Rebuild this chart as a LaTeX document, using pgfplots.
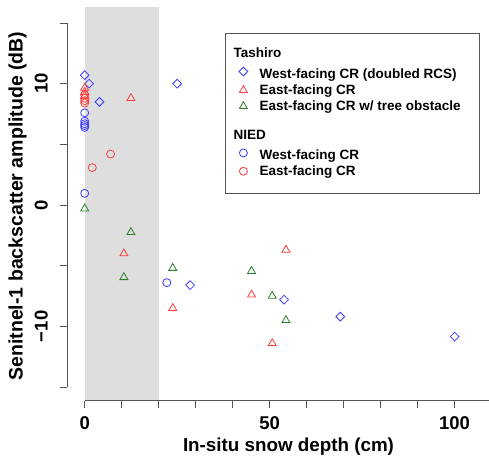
\documentclass[border=0pt]{standalone}
\usepackage{fontspec}
\setmainfont{Liberation Sans}
\usepackage{pgfplots}
\pgfplotsset{compat=1.18}

\definecolor{cblue}{RGB}{60,60,255}
\definecolor{cred}{RGB}{255,60,60}
\definecolor{cgreen}{RGB}{40,130,40}
\definecolor{shade}{RGB}{222,222,222}
\definecolor{axgray}{RGB}{85,85,85}

\pgfplotsset{
  dmark/.style={only marks, mark=square, mark size=3.1pt, mark options={rotate=45, line width=0.8pt, solid}},
  tmark/.style={only marks, mark=triangle, mark size=4.6pt, mark options={line width=0.8pt, solid}},
  cmark/.style={only marks, mark=o, mark size=4pt, mark options={line width=0.8pt, solid}},
}
% legend rows: only the height above the baseline sets the spacing
\newcommand{\rowh}[1]{\rule{0pt}{#1}}

\begin{document}
\begin{tikzpicture}
\begin{axis}[
  scale only axis, width=421.7pt, height=393.7pt,
  xmin=-4.7, xmax=109.3, ymin=-16.13, ymax=16.32,
  axis x line*=bottom, axis y line*=left,
  axis line style={draw=none},
  tick align=outside,
  xtick={0,50,100}, xticklabels={0,50,100},
  minor xtick={10,20,30,40,60,70,80,90},
  ytick={-10,0,10}, yticklabels={−10,0,10},
  minor ytick={-15,-5,5,15},
  major tick length=7pt, minor tick length=7pt,
  tick style={axgray, line width=0.8pt},
  tick label style={font=\bfseries\fontsize{18.5}{18.5}\selectfont},
  xticklabel shift=5pt,
  yticklabel style={rotate=90, anchor=south},
  yticklabel shift=9pt,
  xlabel={In-situ snow depth (cm)},
  ylabel={Senitnel-1 backscatter amplitude (dB)},
  xlabel style={font=\bfseries\fontsize{18.8}{18.8}\selectfont,
    at={(axis description cs:0.5245,-0.1168)}, anchor=center},
  ylabel style={font=\bfseries\fontsize{19.5}{19.5}\selectfont,
    at={(axis description cs:-0.118,0.4945)}, anchor=center},
  clip=false,
  legend style={draw=none, fill=none, inner sep=0pt, row sep=0pt,
    at={(rel axis cs:0.406,0.9035)}, anchor=north west,
    font=\bfseries\fontsize{13.5}{16}\selectfont,
    nodes={inner sep=0pt},
    /tikz/every odd column/.style={column sep=11.5pt},
    /tikz/every even column/.style={nodes={text depth=0pt}}},
  legend cell align=left,
  legend image code/.code={\path (-4.5pt,-4.6pt) (4.5pt,4.6pt);
    \draw[#1, overlay] plot coordinates {(0pt,-3.5pt)};},
]
\addplot[draw=none, fill=shade, forget plot] coordinates {(0,-16.13) (20,-16.13) (20,16.32) (0,16.32)} -- cycle;
\draw[axgray, line width=0.8pt] (axis cs:0,-16.13) -- (axis cs:109.3,-16.13);
\draw[axgray, line width=0.8pt] (axis cs:-4.7,-15) -- (axis cs:-4.7,15);
\draw[axgray, line width=0.8pt, fill=white] (rel axis cs:0.374,0.934) rectangle (rel axis cs:0.9763,0.5276);

\addlegendimage{empty legend}
\addlegendentry{\hspace*{-26pt}Tashiro\rowh{12pt}}

\addplot[dmark, cblue] coordinates {
 (0,10.7) (1.2,10.0) (4.0,8.5) (25.0,10.0) (28.5,-6.6) (53.9,-7.8) (69.1,-9.2) (100,-10.85)
};
\addlegendentry{West-facing CR (doubled RCS)\rowh{21.6pt}}

\addplot[tmark, cred] coordinates {
 (0,9.65) (0,9.3) (0,9.0) (12.5,8.8) (10.6,-4.0) (23.8,-8.5) (54.4,-3.7) (45.1,-7.4) (50.7,-11.4)
};
\addlegendentry{East-facing CR\rowh{16pt}}

\addplot[tmark, cgreen] coordinates {
 (0,-0.3) (12.5,-2.25) (10.6,-5.96) (23.8,-5.2) (45.1,-5.45) (50.7,-7.5) (54.4,-9.5)
};
\addlegendentry{East-facing CR w/ tree obstacle\rowh{16pt}}

\addlegendimage{empty legend}
\addlegendentry{\hspace*{-26pt}NIED\rowh{28.3pt}}

\addplot[cmark, cblue] coordinates {
 (0,0.96) (22.2,-6.4) (0,7.6) (0,6.9) (0,6.7) (0,6.55) (0,6.4)
};
\addlegendentry{West-facing CR\rowh{20.7pt}}

\addplot[cmark, cred] coordinates {
 (7.0,4.2) (2.05,3.08) (0,9.1) (0,8.8) (0,8.6) (0,8.4)
};
\addlegendentry{East-facing CR\rowh{16pt}}

\coordinate (bl) at (rel axis cs:0,0);
\coordinate (tr) at (rel axis cs:1,1);
\end{axis}
\pgfresetboundingbox
\path ([shift={(-67.3pt,-56.3pt)}]bl) rectangle ([shift={(0pt,7pt)}]tr);
\end{tikzpicture}
\end{document}
